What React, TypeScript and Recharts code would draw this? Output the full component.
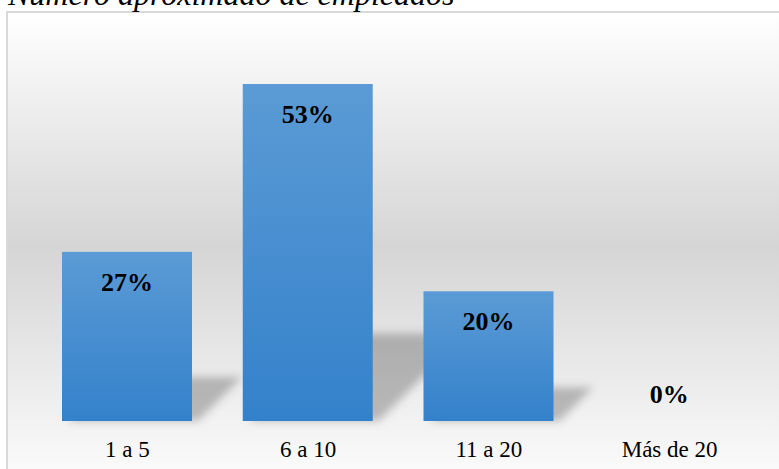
import { BarChart, Bar, XAxis, YAxis, LabelList } from "recharts";

const categorias = ["1 a 5", "6 a 10", "11 a 20", "Más de 20"];
const porcentajes = [26.6, 53.0, 20.4, 0];

const data = categorias.map((cat, i) => ({ cat, valor: porcentajes[i] }));

const SERIF = '"Liberation Serif", "Times New Roman", serif';

function BarraConSombra(props: any) {
  const { x, y, width, height } = props;
  if (!height || height <= 0) return null;
  const bottom = y + height;
  const hs = height * 0.26;
  const off = 6;
  const sombra = [
    [x + off, bottom],
    [x + width + off, bottom],
    [x + width + off + hs, bottom - hs],
    [x + off + hs, bottom - hs],
  ]
    .map((p) => p.join(","))
    .join(" ");
  return (
    <g>
      <polygon points={sombra} fill="#000" fillOpacity={0.24} filter="url(#sombraBlur)" />
      <rect x={x} y={y} width={width} height={height} fill="url(#barGrad)" />
    </g>
  );
}

function Etiqueta(props: any) {
  const { x, y, width, height, value } = props;
  const cx = x + width / 2;
  const by = height > 0 ? y + 39 : y - 18;
  return (
    <text
      x={cx}
      y={by}
      textAnchor="middle"
      fontFamily={SERIF}
      fontWeight="bold"
      fontSize={26}
      fill="#000"
    >
      {Math.round(value)}%
    </text>
  );
}

function TickX(props: any) {
  const { x, y, payload } = props;
  return (
    <text x={x} y={y + 36} textAnchor="middle" fontFamily={SERIF} fontSize={23} fill="#000">
      {payload.value}
    </text>
  );
}

export default function App() {
  return (
    <div style={{ position: "absolute", left: 0, top: 0, width: 779, height: 469, overflow: "hidden" }}>
      <svg width={779} height={469} style={{ position: "absolute", left: 0, top: 0 }}>
        <defs>
          <linearGradient id="fondo" x1="0" y1="0" x2="0" y2="1">
            <stop offset="0%" stopColor="#ffffff" />
            <stop offset="50%" stopColor="#d5d5d5" />
            <stop offset="100%" stopColor="#fcfcfc" />
          </linearGradient>
        </defs>
        <rect x={7} y={12} width={780} height={470} fill="url(#fondo)" stroke="#d9d9d9" strokeWidth={2} />
        <text x={8} y={5} fontFamily={SERIF} fontStyle="italic" fontSize={32} fill="#000">
          Número aproximado de empleados
        </text>
      </svg>
      <div style={{ position: "absolute", left: 0, top: 0 }}>
        <BarChart
          width={779}
          height={469}
          data={data}
          margin={{ top: 39.5, right: 19, left: 37, bottom: 0 }}
          barSize={130}
        >
          <defs>
            <linearGradient id="barGrad" x1="0" y1="0" x2="0" y2="1">
              <stop offset="0%" stopColor="#5b9bd5" />
              <stop offset="100%" stopColor="#3481cb" />
            </linearGradient>
            <filter id="sombraBlur" x="-30%" y="-30%" width="160%" height="160%">
              <feGaussianBlur stdDeviation="4" />
            </filter>
          </defs>
          <YAxis hide domain={[0, 60]} />
          <XAxis
            dataKey="cat"
            height={48}
            axisLine={false}
            tickLine={false}
            tickSize={0}
            tickMargin={0}
            tick={TickX}
            interval={0}
          />
          <Bar dataKey="valor" shape={BarraConSombra} isAnimationActive={false}>
            <LabelList dataKey="valor" content={Etiqueta} />
          </Bar>
        </BarChart>
      </div>
    </div>
  );
}
